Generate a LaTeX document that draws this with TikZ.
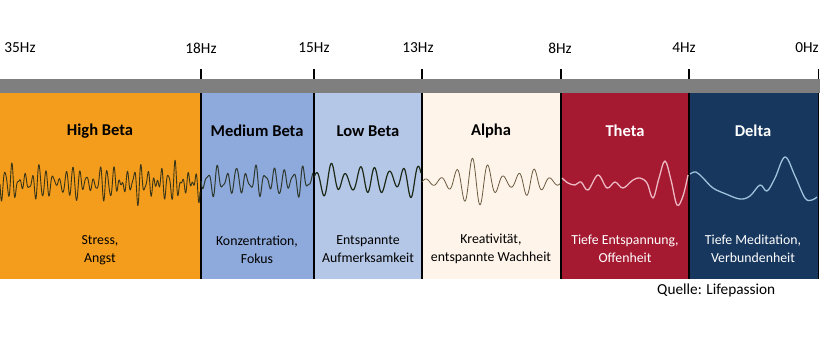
\documentclass[tikz,border=0pt]{standalone}
\usepackage{fontspec}
\setmainfont{Carlito}
\definecolor{hb}{HTML}{F49D1D}
\definecolor{mb}{HTML}{8EA9DB}
\definecolor{lb}{HTML}{B4C7E7}
\definecolor{al}{HTML}{FEF4EA}
\definecolor{th}{HTML}{A51931}
\definecolor{de}{HTML}{17375E}
\definecolor{bar}{HTML}{7F7F7F}
\definecolor{whb}{HTML}{3A3618}
\definecolor{wmb}{HTML}{2E3A30}
\definecolor{wlb}{HTML}{1E2A18}
\definecolor{wal}{HTML}{6B5A3F}
\definecolor{wth}{HTML}{ECB9C3}
\definecolor{wde}{HTML}{9EC3DC}
\tikzset{
  hzlabel/.style={font=\fontsize{15.3}{17}\selectfont, inner sep=0pt},
  title/.style={font=\fontsize{16.5}{18}\selectfont\bfseries, inner sep=0pt},
  desc/.style={font=\fontsize{13.8}{17.5}\selectfont, align=center, inner sep=0pt},
  sep/.style={line width=1.4pt, black},
  wave/.style={line width=1pt, line join=round}
}
\begin{document}
\begin{tikzpicture}[x=1pt,y=-1pt]
\useasboundingbox (0,0) rectangle (820,360);
% boxes
\fill[hb] (0,93) rectangle (201,279);
\fill[mb] (201,93) rectangle (314,279);
\fill[lb] (314,93) rectangle (422,279);
\fill[al] (422,93) rectangle (561,279);
\fill[th] (561,93) rectangle (689,279);
\fill[de] (689,93) rectangle (818,279);
% bar
\fill[bar] (0,79) rectangle (820,93);
% separators and ticks
\foreach \xx in {201,314,422,561,689,818.5}{
  \draw[sep] (\xx,69) -- (\xx,79);
  \draw[sep] (\xx,93) -- (\xx,279);
}
% Hz labels
\node[hzlabel] (l35) at (20,48) {35Hz};
\node[hzlabel] (l18) at (201,48) {18Hz};
\node[hzlabel] (l15) at (314,48) {15Hz};
\node[hzlabel] (l13) at (418,48) {13Hz};
\node[hzlabel] (l8) at (560,48) {8Hz};
\node[hzlabel] (l4) at (684,48) {4Hz};
\node[hzlabel] (l0) at (807,48) {0Hz};
% waves
\draw[wave, whb, line width=0.9pt] plot[domain=0:200, samples=700]
  (\x, {183 + (10 + 6*sin(\x*11) + 5*sin(\x*29+50))*sin(360*frac(\x/6.8)) + 3*sin(360*frac(\x/4.3)+20)});
\draw[wave, wmb] plot[domain=201:313, samples=450]
  (\x, {181 + (10 + 5*sin(\x*17+30))*sin(360*frac((\x-201)/9.5)) + 2.5*sin(360*frac((\x-201)/5.7))});
\draw[wave, wlb, line width=1.2pt] plot[domain=314:421, samples=400]
  (\x, {180 + (11 + 4*sin(\x*9))*sin(360*frac((\x-314)/14.5)+200) + 3*sin(360*frac((\x-314)/29))});
\draw[wave, wal, line width=0.8pt] plot[domain=422:560, samples=450]
  (\x, {182 + (3 + 21*exp(-((\x-475)/20)^2) + 11*exp(-((\x-530)/13)^2))*sin(360*frac((\x-422)/15.5)+180)});
\draw[wave, wth, line width=1.3pt] plot[smooth, tension=0.6] coordinates {
  (562,178) (568,183) (575,185) (581,182) (588,190) (598,175) (607,188)
  (615,182) (623,188) (633,180) (640,178) (647,183) (653,198) (659,178)
  (665,161) (671,180) (677,205) (683,196) (688,175)};
\draw[wave, wde, line width=1.3pt] plot[smooth, tension=0.6] coordinates {
  (690,174) (696,172) (703,178) (713,188) (726,194) (740,199) (750,196)
  (760,185) (767,191) (775,178) (785,157) (795,176) (805,198) (812,200) (817,197)};
% titles
\node[title] (thb) at (100,131) {High Beta};
\node[title] (tmb) at (257,131) {Medium Beta};
\node[title] (tlb) at (368,131) {Low Beta};
\node[title] (tal) at (491,131) {Alpha};
\node[title, white] (tth) at (625,131) {Theta};
\node[title, white] (tde) at (753,131) {Delta};
% descriptions
\node[desc] (dhb) at (100,250) {Stress,\\Angst};
\node[desc] (dmb) at (257,250) {Konzentration,\\Fokus};
\node[desc] (dlb) at (368,249) {Entspannte\\Aufmerksamkeit};
\node[desc] (dal) at (491,249) {Kreativität,\\entspannte Wachheit};
\node[desc, white] (dth) at (625,249) {Tiefe Entspannung,\\Offenheit};
\node[desc, white] (dde) at (753,249) {Tiefe Meditation,\\Verbundenheit};
% source
\node[hzlabel, anchor=west] (src) at (657,290) {Quelle: Lifepassion};
\end{tikzpicture}
\end{document}
